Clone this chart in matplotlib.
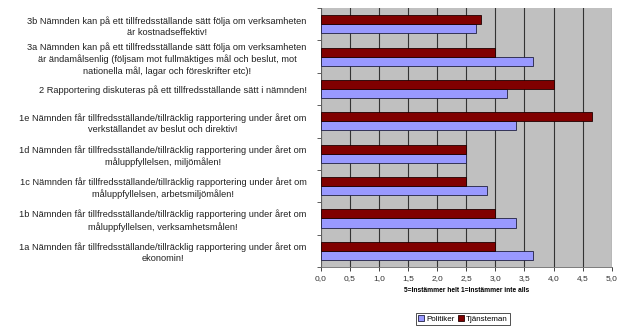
import numpy as np
import matplotlib
matplotlib.use('Agg')
from matplotlib import pyplot as plt

plt.rcParams['font.family'] = ['Liberation Sans', 'DejaVu Sans']

# categories, bottom to top as drawn
labels = [
    '1a Nämnden får tillfredsställande/tillräcklig rapportering under året om\nekonomin!',
    '1b Nämnden får tillfredsställande/tillräcklig rapportering under året om\nmåluppfyllelsen, verksamhetsmålen!',
    '1c Nämnden får tillfredsställande/tillräcklig rapportering under året om\nmåluppfyllelsen, arbetsmiljömålen!',
    '1d Nämnden får tillfredsställande/tillräcklig rapportering under året om\nmåluppfyllelsen, miljömålen!',
    '1e Nämnden får tillfredsställande/tillräcklig rapportering under året om\nverkställandet av beslut och direktiv!',
    '2 Rapportering diskuteras på ett tillfredsställande sätt i nämnden!',
    '3a Nämnden kan på ett tillfredsställande sätt följa om verksamheten\när ändamålsenlig (följsam mot fullmäktiges mål och beslut, mot\nnationella mål, lagar och föreskrifter etc)!',
    '3b Nämnden kan på ett tillfredsställande sätt följa om verksamheten\när kostnadseffektiv!',
]
politiker = [3.65, 3.36, 2.86, 2.5, 3.36, 3.2, 3.65, 2.67]
tjansteman = [3.0, 3.0, 2.5, 2.5, 4.67, 4.0, 3.0, 2.75]
xticks = np.arange(0, 5.01, 0.5)
xticklabels = ['{:.1f}'.format(v).replace('.', ',') for v in xticks]

fig = plt.figure(figsize=(6.27, 3.33), dpi=100)
ax = fig.add_axes([0.5115, 0.198, 0.4641, 0.778])
ax.set_facecolor('#c0c0c0')

y = np.arange(len(labels))
h = 0.28
ax.barh(y - h / 2, politiker, height=h, color='#9999ff', edgecolor='#202040',
        linewidth=0.6, label='Politiker', zorder=3)
ax.barh(y + h / 2, tjansteman, height=h, color='#800000', edgecolor='#200000',
        linewidth=0.6, label='Tjänsteman', zorder=3)

ax.set_xlim(0, 5)
ax.set_ylim(-0.5, len(labels) - 0.5)
ax.set_xticks(xticks)
ax.set_xticklabels(xticklabels, fontsize=6, color='#333333')
ax.xaxis.grid(True, color='#333333', linewidth=0.8, zorder=1)
ax.set_axisbelow(True)

ax.set_yticks(y)
ax.set_yticklabels(labels, fontsize=6.7, color='#222222', multialignment='center',
                   linespacing=1.3)
ax.set_yticks(np.arange(-0.5, len(labels), 1), minor=True)
ax.tick_params(axis='y', which='major', length=0, pad=10)
ax.tick_params(axis='y', which='minor', length=3, width=0.6, color='#444444')
ax.tick_params(axis='x', length=3, width=0.6, color='#222222', pad=3)

for s in ['top', 'right']:
    ax.spines[s].set_visible(False)
ax.spines['left'].set_color('#666666')
ax.spines['bottom'].set_color('#666666')
ax.spines['left'].set_linewidth(0.6)
ax.spines['bottom'].set_linewidth(0.6)

ax.set_xlabel('5=Instämmer helt 1=Instämmer inte alls', fontsize=4.8,
              fontweight='bold', labelpad=3)

leg = fig.legend(loc='center', bbox_to_anchor=(463 / 627, 1 - 319 / 333), ncol=2,
                 fontsize=5.8, frameon=True, fancybox=False, edgecolor='black',
                 handlelength=0.7, handleheight=0.7, handletextpad=0.3,
                 columnspacing=0.4, borderpad=0.3, borderaxespad=0)
leg.get_frame().set_linewidth(0.6)

fig.savefig('out.png', dpi=100)
